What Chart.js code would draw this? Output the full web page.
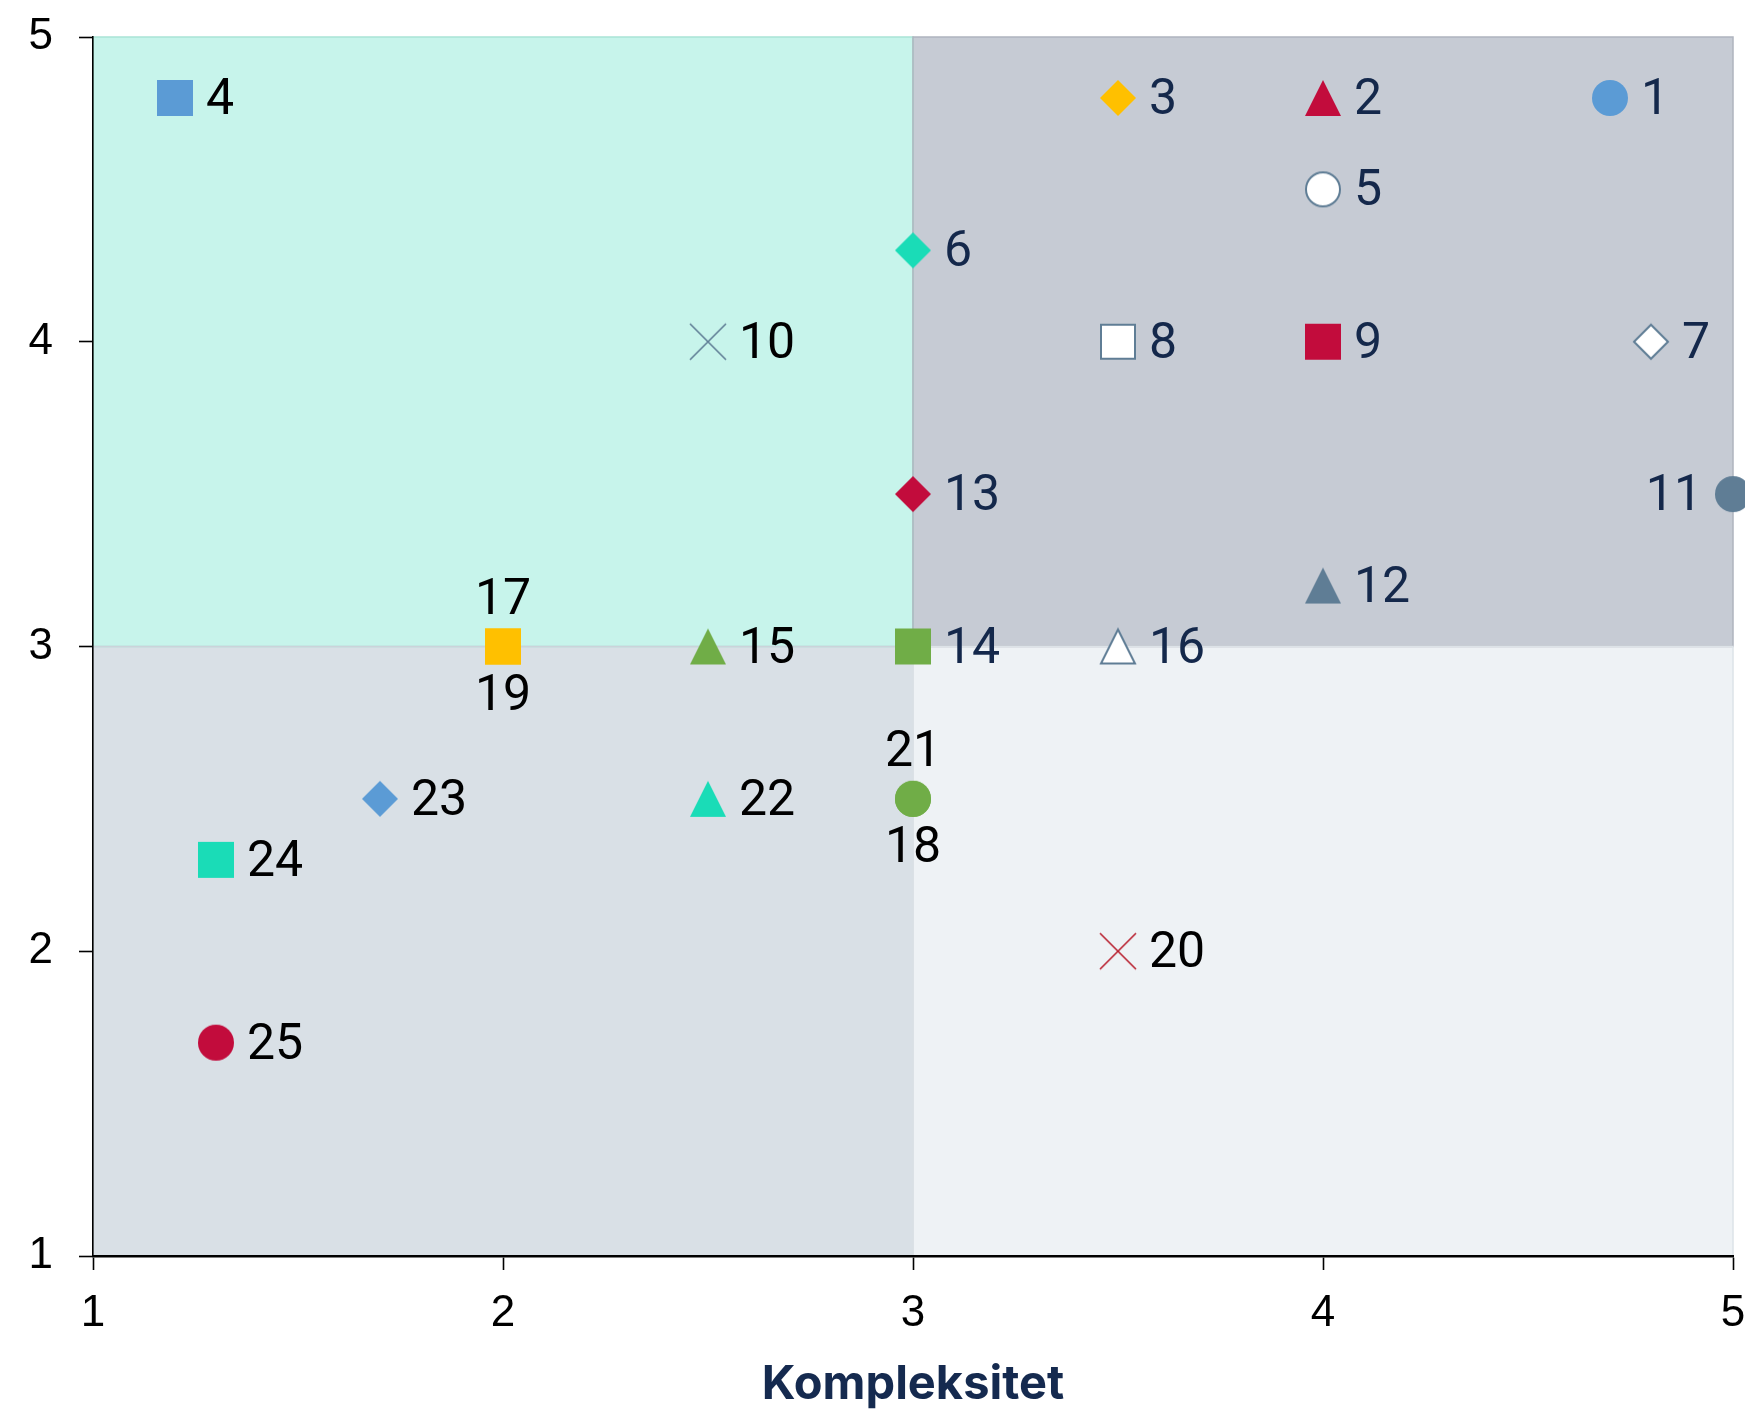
<!DOCTYPE html>
<html>
<head>
<meta charset="utf-8">
<script src="https://cdn.jsdelivr.net/npm/chart.js@4/dist/chart.umd.min.js"></script>
<style>
html,body{margin:0;padding:0;background:#ffffff;}
#wrap{width:1745px;height:1413px;position:relative;}
</style>
</head>
<body>
<div id="wrap"><canvas id="c" width="1745" height="1413"></canvas></div>
<script>
// ---------------- DATA ----------------
const pointIds   = ['1','2','3','4','5','6','7','8','9','10','11','12','13','14','15','16','17','18','19','20','21','22','23','24','25'];
const complexity = [4.7, 4.0, 3.5, 1.2, 4.0, 3.0, 4.8, 3.5, 4.0, 2.5, 5.0, 4.0, 3.0, 3.0, 2.5, 3.5, 2.0, 3.0, 2.0, 3.5, 3.0, 2.5, 1.7, 1.3, 1.3];
const yScore     = [4.8, 4.8, 4.8, 4.8, 4.5, 4.3, 4.0, 4.0, 4.0, 4.0, 3.5, 3.2, 3.5, 3.0, 3.0, 3.0, 3.0, 2.5, 3.0, 2.0, 2.5, 2.5, 2.5, 2.3, 1.7];
const xTickValues = [1, 2, 3, 4, 5];
const yTickValues = [1, 2, 3, 4, 5];
const xAxisTitle = 'Kompleksitet';
const quadrantX = [[1, 3], [3, 5], [1, 3], [3, 5]];
const quadrantY = [[3, 5], [3, 5], [1, 3], [1, 3]];

// ---------------- STYLES ----------------
const BLUE = '#5b9bd5', RED = '#c20c3c', YEL = '#ffc000', TEAL = '#1adcb7', GREEN = '#70ad47', SLATE = '#5f7d95', WHITE = '#ffffff';
const markerShape = ['circle','triangle','diamond','square','circle','diamond','diamond','square','square','cross','circle','triangle','diamond','square','triangle','triangle','square','circle','square','cross','circle','triangle','diamond','square','circle'];
const markerFill  = [BLUE, RED, YEL, BLUE, WHITE, TEAL, WHITE, WHITE, RED, SLATE, SLATE, SLATE, RED, GREEN, GREEN, WHITE, YEL, GREEN, YEL, '#b8202f', GREEN, TEAL, BLUE, TEAL, RED];
const markerHollow = [0,0,0,0,1,0,1,1,0,0,0,0,0,0,0,1,0,0,0,0,0,0,0,0,0];
const labelPos = ['r','r','r','r','r','r','r','r','r','r','l','r','r','r','r','r','a','b','b','r','a','r','r','r','r'];
const labelNavy = [1,1,1,0,1,1,1,1,1,0,1,1,1,1,0,1,0,0,0,0,0,0,0,0,0];
const quadFill = ['#c7f4eb', '#c6cbd4', '#d9e0e6', '#eef2f5'];
const quadStroke = ['#a9e3d6', '#afb4be', '#cbd3da', '#dde3e8'];

function makeMarker(shape, fill, hollow) {
  const S = 40, c = document.createElement('canvas');
  c.width = S; c.height = S;
  const g = c.getContext('2d');
  const cx = S / 2, cy = S / 2;
  const h = hollow ? 17 : 18;
  g.beginPath();
  if (shape === 'circle') g.arc(cx, cy, h, 0, Math.PI * 2);
  else if (shape === 'square') g.rect(cx - h, cy - h, 2 * h, 2 * h);
  else if (shape === 'diamond') { g.moveTo(cx, cy - h); g.lineTo(cx + h, cy); g.lineTo(cx, cy + h); g.lineTo(cx - h, cy); g.closePath(); }
  else if (shape === 'triangle') { g.moveTo(cx, cy - h); g.lineTo(cx + h, cy + h); g.lineTo(cx - h, cy + h); g.closePath(); }
  else if (shape === 'cross') {
    g.moveTo(cx - 18, cy - 18); g.lineTo(cx + 18, cy + 18);
    g.moveTo(cx + 18, cy - 18); g.lineTo(cx - 18, cy + 18);
    g.strokeStyle = fill; g.lineWidth = 1.6; g.stroke();
    return c;
  }
  g.fillStyle = hollow ? WHITE : fill;
  g.fill();
  if (hollow) { g.strokeStyle = SLATE; g.lineWidth = 2; g.stroke(); }
  return c;
}
const markerImages = pointIds.map((_, i) => makeMarker(markerShape[i], markerFill[i], markerHollow[i]));

const quadrantPlugin = {
  id: 'quadrants',
  beforeDraw(chart) {
    const { ctx, scales: { x, y } } = chart;
    ctx.save();
    quadrantX.forEach((qx, i) => {
      const l = x.getPixelForValue(qx[0]), r = x.getPixelForValue(qx[1]);
      const t = y.getPixelForValue(quadrantY[i][1]), b = y.getPixelForValue(quadrantY[i][0]);
      ctx.fillStyle = quadFill[i];
      ctx.fillRect(l, t, r - l, b - t);
    });
    quadrantX.forEach((qx, i) => {
      const l = x.getPixelForValue(qx[0]), r = x.getPixelForValue(qx[1]);
      const t = y.getPixelForValue(quadrantY[i][1]), b = y.getPixelForValue(quadrantY[i][0]);
      ctx.strokeStyle = quadStroke[i];
      ctx.lineWidth = 1.5;
      ctx.strokeRect(l, t, r - l, b - t);
    });
    ctx.restore();
  }
};

const labelPlugin = {
  id: 'pointLabels',
  afterDatasetsDraw(chart) {
    const ctx = chart.ctx;
    const meta = chart.getDatasetMeta(0);
    ctx.save();
    ctx.font = '50px Roboto';
    ctx.textBaseline = 'alphabetic';
    meta.data.forEach((pt, i) => {
      const px = pt.x, py = pt.y;
      ctx.fillStyle = labelNavy[i] ? '#14284b' : '#000000';
      const p = labelPos[i];
      if (p === 'r') { ctx.textAlign = 'left'; ctx.fillText(pointIds[i], px + 31, py + 16); }
      else if (p === 'l') { ctx.textAlign = 'right'; ctx.fillText(pointIds[i], px - 31, py + 16); }
      else if (p === 'a') { ctx.textAlign = 'center'; ctx.fillText(pointIds[i], px, py - 33); }
      else { ctx.textAlign = 'center'; ctx.fillText(pointIds[i], px, py + 63); }
    });
    ctx.restore();
  }
};

new Chart(document.getElementById('c'), {
  type: 'scatter',
  data: {
    datasets: [{
      data: complexity.map((v, i) => ({ x: v, y: yScore[i] })),
      pointStyle: markerImages,
      pointRadius: 18,
      pointHoverRadius: 18,
      clip: false
    }]
  },
  options: {
    responsive: false,
    animation: false,
    devicePixelRatio: 1,
    layout: { autoPadding: false, padding: { top: 37, right: 12, left: 0, bottom: 0 } },
    plugins: { legend: { display: false }, tooltip: { enabled: false } },
    scales: {
      x: {
        type: 'linear', min: 1, max: 5,
        afterBuildTicks(s) { s.ticks = xTickValues.map(v => ({ value: v })); },
        afterFit(s) { s.height = 157; s.paddingLeft = 0; s.paddingRight = 0; },
        grid: { display: true, drawOnChartArea: false, drawTicks: true, tickLength: 14, tickWidth: 1.6, tickColor: '#000' },
        border: { display: true, color: '#000', width: 2.6 },
        ticks: { color: '#000', font: { family: 'Liberation Sans', size: 44 }, padding: 17, maxRotation: 0, autoSkip: false },
        title: { display: true, text: xAxisTitle, color: '#152a4f', font: { family: 'Inter', size: 47, weight: '700' }, padding: { top: 0, bottom: 0 } }
      },
      y: {
        type: 'linear', min: 1, max: 5,
        afterBuildTicks(s) { s.ticks = yTickValues.map(v => ({ value: v })); },
        afterFit(s) { s.width = 93; s.paddingTop = 0; s.paddingBottom = 0; },
        grid: { display: true, drawOnChartArea: false, drawTicks: true, tickLength: 14, tickWidth: 1.6, tickColor: '#000' },
        border: { display: true, color: '#000', width: 1.6 },
        ticks: { color: '#000', font: { family: 'Liberation Sans', size: 44 }, padding: 26, autoSkip: false }
      }
    }
  },
  plugins: [quadrantPlugin, labelPlugin]
});
</script>
</body>
</html>
